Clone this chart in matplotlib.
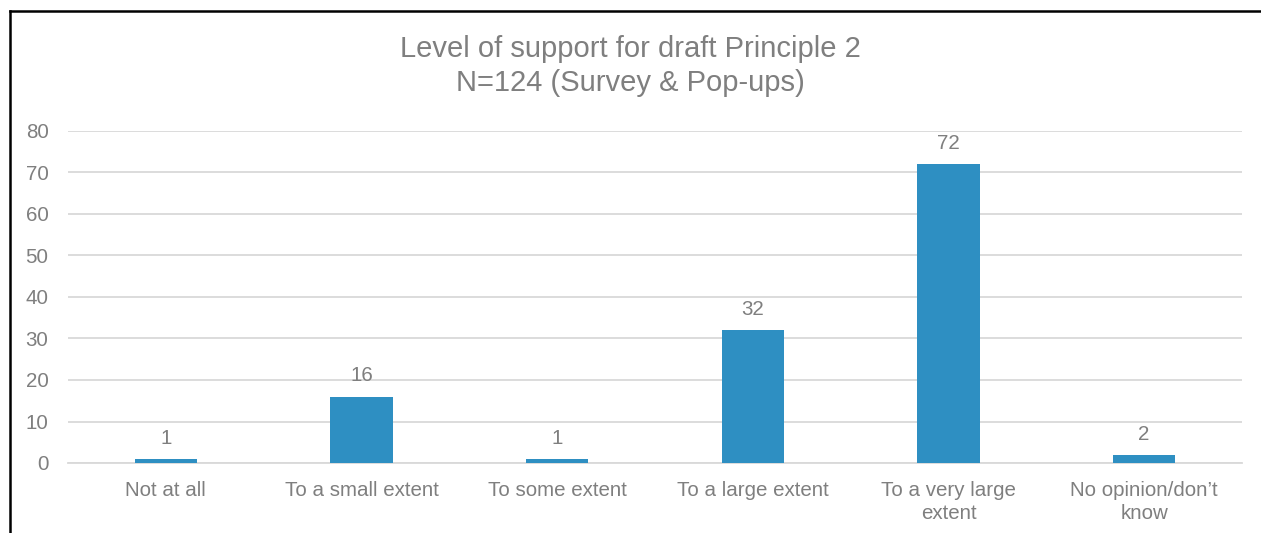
import matplotlib
matplotlib.use("Agg")
import matplotlib.pyplot as plt
from matplotlib.lines import Line2D

categories = ["Not at all", "To a small extent", "To some extent", "To a large extent",
              "To a very large\nextent", "No opinion/don\u2019t\nknow"]
values = [1, 16, 1, 32, 72, 2]
yticks = [0, 10, 20, 30, 40, 50, 60, 70, 80]
title = "Level of support for draft Principle 2\nN=124 (Survey & Pop-ups)"

plt.rcParams['font.family'] = ['Liberation Sans', 'DejaVu Sans']
gray = '#7F7F7F'
bar_color = '#2E8FC2'
grid_color = '#D9D9D9'

fig = plt.figure(figsize=(12.61, 5.33), dpi=100)
ax = fig.add_axes([68/1261, 1-463/533, (1242-68)/1261, (463-131)/533])

x = list(range(len(categories)))
bars = ax.bar(x, values, width=0.317, color=bar_color, zorder=3)
ax.set_xlim(-0.5, len(categories)-0.5)
ax.set_ylim(0, 80)
ax.set_yticks(yticks)
ax.yaxis.grid(True, color=grid_color, linewidth=1.3, zorder=0)
ax.set_axisbelow(True)
for s in ['top', 'right', 'left']:
    ax.spines[s].set_visible(False)
ax.spines['bottom'].set_color(grid_color)
ax.spines['bottom'].set_linewidth(1.3)
ax.tick_params(axis='both', length=0, colors=gray, labelsize=14.8)
ax.tick_params(axis='y', pad=14)
ax.tick_params(axis='x', pad=13)
ax.set_xticks(x)
ax.set_xticklabels(categories, linespacing=1.25)

for xi, v in zip(x, values):
    ax.annotate(str(v), (xi, v), xytext=(0, 8), textcoords='offset points',
                ha='center', va='bottom', color=gray, fontsize=14.8)

fig.text(0.5, 1-66/533, title, ha='center', va='center', color=gray,
         fontsize=21, linespacing=1.27)

# outer border lines (top and left)
fig.add_artist(Line2D([9.5/1261, 9.5/1261], [0, 1-11/533], transform=fig.transFigure,
                      color='black', linewidth=1.8))
fig.add_artist(Line2D([9.5/1261, 1.0], [1-11/533, 1-11/533], transform=fig.transFigure,
                      color='black', linewidth=1.8))

fig.savefig("out.png", dpi=100)
